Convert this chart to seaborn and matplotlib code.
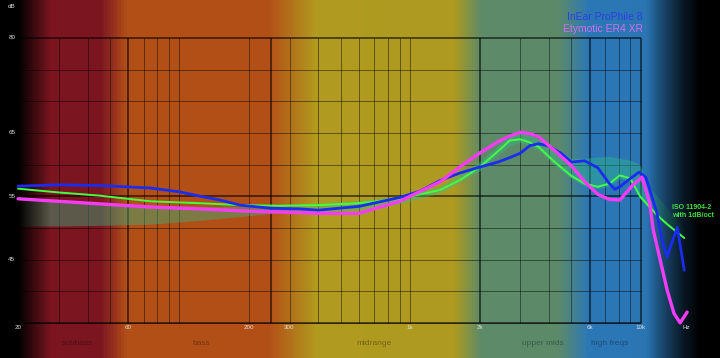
import numpy as np
import matplotlib
matplotlib.use("Agg")
import matplotlib.pyplot as plt
from matplotlib.colors import LinearSegmentedColormap
import seaborn as sns

# frequency responses (Hz / dB)
inear_freq = [20, 30, 45, 75, 100, 123, 150, 183, 250, 333, 400, 600, 900, 1100, 1350, 1650,
              2000, 2400, 2700, 3000, 3300, 3600, 4000, 4500, 5000, 5700, 6500, 7300, 7700,
              8100, 9000, 9800, 10500, 11700, 12340, 12980, 13500, 14370, 15400]
inear_db = [56.6, 56.8, 56.7, 56.3, 55.7, 55.0, 54.4, 53.6, 53.1, 53.0, 52.8, 53.4, 54.8, 55.8,
            57.5, 58.7, 59.6, 60.4, 61.1, 61.8, 63.0, 63.3, 62.9, 61.8, 60.4, 60.6, 59.5, 57.0,
            56.1, 56.5, 57.8, 58.8, 58.0, 52.5, 48.1, 45.4, 47.3, 50.1, 43.3]

ety_freq = [20, 30, 45, 75, 123, 183, 273, 400, 600, 900, 1350, 1650, 2000, 2400, 2700, 3000,
            3300, 3600, 4200, 5000, 5700, 6500, 7300, 8100, 9240, 10100, 10900, 11300, 12100,
            12980, 13900, 14780, 15850]
ety_db = [54.6, 54.2, 53.8, 53.3, 53.0, 52.7, 52.5, 52.3, 52.3, 54.2, 57.3, 59.7, 61.8, 63.6,
          64.5, 65.1, 64.9, 64.4, 62.3, 59.8, 57.3, 55.3, 54.5, 54.4, 56.8, 58.0, 54.0, 49.7,
          45.0, 40.2, 36.5, 35.0, 36.7]

target_freq = [20, 30, 45, 75, 123, 183, 273, 400, 600, 900, 1350, 1650, 2000, 2400, 2700,
               3000, 3300, 3600, 4200, 5000, 5700, 6500, 7300, 8100, 9000, 9900, 11760, 12980,
               15400]
target_db = [56.2, 55.6, 55.1, 54.2, 53.9, 53.6, 53.5, 53.6, 53.9, 54.6, 56.0, 57.6, 59.6, 62.1,
             63.8, 64.0, 63.5, 62.8, 60.5, 58.2, 57.0, 56.5, 57.0, 58.3, 57.8, 55.0, 52.0, 50.6,
             48.4]

band_freq = [20, 30, 45, 75, 123, 183, 273, 400, 600, 900, 1350, 2000, 2400, 2700, 3000, 3300,
             3600, 4200, 5000, 5700, 6500, 7300, 8100, 9000, 9900, 10500, 11760, 13000, 15400]
band_low = [50.3, 50.3, 50.4, 50.6, 51.2, 51.8, 52.4, 52.6, 52.8, 53.8, 55.5, 59.0, 61.5, 63.0,
            63.5, 63.0, 62.3, 60.0, 57.8, 56.6, 56.2, 56.6, 57.8, 57.3, 54.6, 53.6, 51.6, 50.2,
            48.0]
band_high = [54.8, 54.4, 54.0, 53.6, 53.4, 53.4, 53.6, 53.9, 54.3, 55.0, 56.6, 60.5, 63.0, 64.5,
             65.0, 64.6, 64.0, 62.5, 61.0, 61.0, 61.2, 61.3, 61.0, 60.7, 60.0, 57.0, 55.0, 53.0,
             49.8]

grid_thin = [20, 30, 40, 50, 70, 80, 90, 100, 200, 300, 400, 500, 600, 700, 800, 900, 1000,
             3000, 4000, 5000, 7000, 8000, 9000]
grid_bold = [60, 250, 2000, 6000, 10000]
grid_db = [35, 40, 45, 50, 60, 65, 70, 75]
grid_db_bold = [35, 55, 80]

xtick_freq = [20, 60, 200, 300, 1000, 2000, 6000, 10000]
xtick_text = ['20', '60', '200', '300', '1k', '2k', '6k', '10k']
ytick_db = [80, 65, 55, 45]

band_names = ['subbass', 'bass', 'midrange', 'upper mids', 'high freqs']
band_centers = [36, 124, 700, 3760, 7340]

# background colour bands (fraction of width, colour)
bg_stops = [(0.0, '#7a1520'), (0.139, '#7c1722'),
            (0.175, '#b24f18'), (0.372, '#b34f17'), (0.439, '#b19a20'), (0.632, '#ae9b22'),
            (0.669, '#5e8a68'), (0.778, '#5c8a6a'), (0.819, '#2c78b6'), (1.0, '#2a72b0')]
# black fade at both edges (fraction of width, opacity)
fade_x = [0.0, 0.025, 0.07, 0.898, 0.925, 0.95, 0.972, 1.0]
fade_a = [1.0, 1.0, 0.0, 0.0, 0.45, 0.8, 1.0, 1.0]

sns.set_style("dark")
plt.rcParams['font.family'] = ['Liberation Sans', 'DejaVu Sans']

fig = plt.figure(figsize=(7.2, 3.58), dpi=100)
bg = fig.add_axes([0, 0, 1, 1])
cmap = LinearSegmentedColormap.from_list('bands', bg_stops)
bg.imshow(np.linspace(0, 1, 720)[None, :], aspect='auto', cmap=cmap, extent=[0, 1, 0, 1])
bg.set_axis_off()

ax = fig.add_axes([0, 0, 1, 1])
ax.set_facecolor('none')
ax.set_xscale('log')
ax.set_xlim(16.7, 22000)
ax.set_ylim(29.45, 86.0)

ax.vlines(grid_thin, 35, 80, color='black', alpha=0.45, lw=0.7, zorder=1)
ax.vlines(grid_bold, 35, 80, color='black', alpha=0.7, lw=1.1, zorder=1)
ax.hlines(grid_db, 20, 10000, color='black', alpha=0.45, lw=0.7, zorder=1)
ax.hlines(grid_db_bold, 20, 10000, color='black', alpha=0.7, lw=1.1, zorder=1)

ax.fill_between(band_freq, band_low, band_high, color='#2fbf8a', alpha=0.4, lw=0, zorder=2)

fade = np.zeros((1, 720, 4))
fade[0, :, 3] = np.interp(np.linspace(0, 1, 720), fade_x, fade_a)
ax.imshow(fade, aspect='auto', extent=[0, 1, 0, 1], transform=ax.transAxes, zorder=2.5)

sns.lineplot(x=target_freq, y=target_db, ax=ax, color='#44ff44', linewidth=1.4, zorder=3)
sns.lineplot(x=inear_freq, y=inear_db, ax=ax, color='#1a2cf0', linewidth=2.0, zorder=4)
sns.lineplot(x=ety_freq, y=ety_db, ax=ax, color='#f53cf5', linewidth=2.4, zorder=5)

for f, t in zip(xtick_freq, xtick_text):
    ax.text(f, 34.3, t, color='#dddddd', fontsize=4.5, ha='center', va='center', zorder=6)
ax.text(15700, 34.3, 'Hz', color='#dddddd', fontsize=4.5, ha='center', va='center', zorder=6)
for d in ytick_db:
    ax.text(18.8, d, str(d), color='#dddddd', fontsize=4.5, ha='center', va='center', zorder=6)
ax.text(18.8, 85.0, 'dB', color='#dddddd', fontsize=4.5, ha='center', va='center', zorder=6)

for name, f in zip(band_names, band_centers):
    ax.text(f, 31.8, name, color='black', alpha=0.35, fontsize=6, ha='center', va='center')

ax.text(10200, 83.3, 'InEar ProPhile 8', color='#2b40e0', fontsize=7.5, ha='right', va='center')
ax.text(10200, 81.4, 'Etymotic ER4 XR', color='#d070f0', fontsize=7.5, ha='right', va='center')
ax.text(13640, 52.6, 'ISO 11904-2\nwith 1dB/oct', color='#40e040', fontsize=5, ha='left',
        va='center', linespacing=1.1, fontweight='bold', zorder=6)

ax.set_xlim(16.7, 22000)
ax.set_ylim(29.45, 86.0)
ax.grid(False)
ax.set_axis_off()
fig.savefig('out.png', dpi=100)
